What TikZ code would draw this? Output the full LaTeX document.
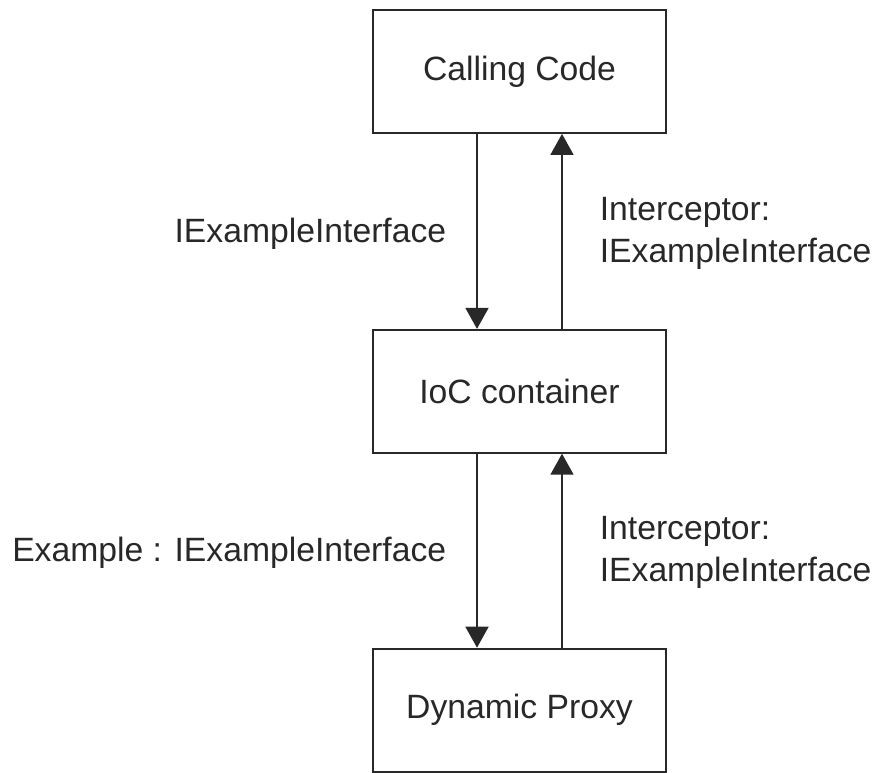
\documentclass[tikz,border=0pt]{standalone}
\usepackage{fontspec}
\setmainfont{Liberation Sans}
\usepackage{tikz}
\usetikzlibrary{arrows.meta,positioning}
\definecolor{inkgrey}{RGB}{40,40,40}

\begin{document}
\begin{tikzpicture}[x=1pt,y=1pt,>={Triangle[width=23pt,length=21pt]},
  font=\fontsize{33.7}{42}\selectfont,
  block/.style={draw=inkgrey,line width=1.8pt,minimum width=293pt,minimum height=123pt,text=inkgrey},
  link/.style={->,draw=inkgrey,line width=1.6pt},
  lbl/.style={text=inkgrey,align=left,inner sep=0pt}]
  \useasboundingbox (0,0) rectangle (883,-773);
  \node[block] (calling) at (519.5,-71.5) {Calling Code};
  \node[block,below=195pt of calling] (ioc) {IoC container};
  \node[block,below=194pt of ioc] (proxy) {Dynamic Proxy};
  \draw[link] ([xshift=-42.5pt]calling.south) -- node[lbl,left=30pt,yshift=-2pt] (callreq) {IExampleInterface} ([xshift=-42.5pt]ioc.north);
  \draw[link] ([xshift=42.5pt]ioc.north) -- node[lbl,right=37pt,yshift=-2pt] (callret) {Interceptor:\\IExampleInterface} ([xshift=42.5pt]calling.south);
  \draw[link] ([xshift=-42.5pt]ioc.south) -- node[lbl,left=30pt,yshift=-2pt] (iocreq) {Example : IExampleInterface} ([xshift=-42.5pt]proxy.north);
  \draw[link] ([xshift=42.5pt]proxy.north) -- node[lbl,right=37pt,yshift=-2pt] (iocret) {Interceptor:\\IExampleInterface} ([xshift=42.5pt]ioc.south);
\end{tikzpicture}
\end{document}
